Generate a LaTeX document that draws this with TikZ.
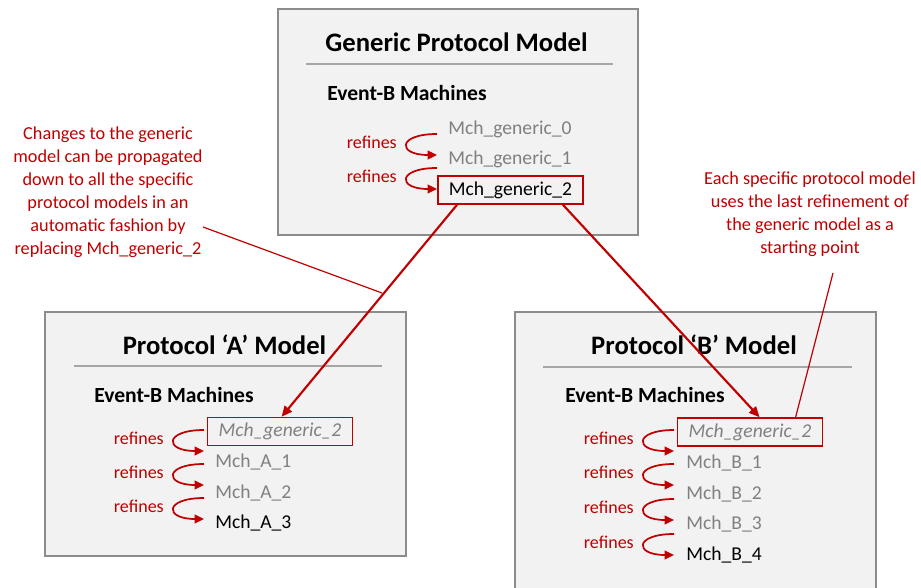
\documentclass[tikz,border=0pt]{standalone}
\usepackage{fontspec}
\setmainfont{Carlito}
\usetikzlibrary{arrows.meta,calc}
\definecolor{myred}{HTML}{C00000}
\definecolor{boxfill}{HTML}{F2F2F2}
\definecolor{boxline}{HTML}{8C8C8C}
\definecolor{sepline}{HTML}{A6A6A6}
\definecolor{dimtext}{HTML}{808080}
\tikzset{
  model/.style={draw=boxline, line width=1.3pt, fill=boxfill},
  sep/.style={draw=sepline, line width=0.9pt},
  title/.style={font=\fontsize{20}{24}\selectfont\bfseries, inner sep=0pt},
  sub/.style={font=\fontsize{16.2}{19}\selectfont\bfseries, inner sep=0pt, anchor=west},
  mch/.style={font=\fontsize{14.7}{17}\selectfont, inner sep=0pt, anchor=west},
  old/.style={mch, text=dimtext},
  cur/.style={mch, text=black},
  genbox/.style={draw=myred, line width=1.1pt, inner sep=0pt, minimum width=109pt, minimum height=21pt, font=\fontsize{14.7}{17}\selectfont},
  reflab/.style={font=\fontsize{13.5}{16}\selectfont, text=myred, inner sep=0pt, anchor=east},
  refarr/.style={draw=myred, line width=1.3pt, -{Triangle[length=7pt,width=6.5pt]}},
  mainarr/.style={draw=myred, line width=1.6pt, -{Triangle[length=8pt,width=7pt]}},
  note/.style={font=\fontsize{13.7}{17.25}\selectfont, text=myred, align=center, inner sep=0pt},
  noteline/.style={draw=myred, line width=0.9pt}
}
\newcommand\refcurve[1]{\draw[refarr] ($(#1.east)+(40,-8)$) .. controls +(-40,0) and +(-40,0) .. ($(#1.east)+(40,13)$);}
\begin{document}
\begin{tikzpicture}[x=0.75pt,y=-0.75pt]
\clip (0,0) rectangle (921,588);
\fill[white] (0,0) rectangle (921,588);

% ---- Generic box
\draw[model] (278,9) rectangle (638,235);
\node[title] (gt) at (456.5,42) {Generic Protocol Model};
\draw[sep] (306,64) -- (613,64);
\node[sub] (gs) at (327,93) {Event-B Machines};
\node[old] (g0) at (448,129) {Mch\_generic\_0};
\node[old] (g1) at (448,159) {Mch\_generic\_1};
\node[genbox] (g2) at (510.5,190) {Mch\_generic\_2};
\node[reflab] (gr1) at (397,142) {refines};
\node[reflab] (gr2) at (397,176) {refines};
\refcurve{gr1}
\refcurve{gr2}

% ---- Protocol A
\draw[model] (45,312) rectangle (406,556);
\node[title] (at) at (224.5,345) {Protocol ‘A’ Model};
\draw[sep] (74,366) -- (382,366);
\node[sub] (as) at (94,395) {Event-B Machines};
\node[genbox, text=dimtext] (a0) at (280,431.5) {\itshape Mch\_generic\_2};
\node[old] (a1) at (215,462) {Mch\_A\_1};
\node[old] (a2) at (215,493) {Mch\_A\_2};
\node[cur] (a3) at (215,523) {Mch\_A\_3};
\node[reflab] (ar1) at (164,438) {refines};
\node[reflab] (ar2) at (164,472) {refines};
\node[reflab] (ar3) at (164,506) {refines};
\refcurve{ar1}
\refcurve{ar2}
\refcurve{ar3}

% ---- Protocol B
\draw[model] (515,312) rectangle (876,600);
\node[title] (bt) at (694,345) {Protocol ‘B’ Model};
\draw[sep] (543,367) -- (852,367);
\node[sub] (bs) at (565,395) {Event-B Machines};
\node[genbox, text=dimtext] (b0) at (750,432) {\itshape Mch\_generic\_2};
\node[old] (b1) at (686,463) {Mch\_B\_1};
\node[old] (b2) at (686,494) {Mch\_B\_2};
\node[old] (b3) at (686,524) {Mch\_B\_3};
\node[cur] (b4) at (686,555) {Mch\_B\_4};
\node[reflab] (br1) at (634,438) {refines};
\node[reflab] (br2) at (634,472) {refines};
\node[reflab] (br3) at (634,507) {refines};
\node[reflab] (br4) at (634,542) {refines};
\refcurve{br1}
\refcurve{br2}
\refcurve{br3}
\refcurve{br4}

% ---- main arrows
\draw[mainarr] ($(g2.south west)+(20,0)$) -- ($(a0.north west)+(75,0)$);
\draw[mainarr] ($(g2.south east)+(-21,0)$) -- ($(b0.north west)+(83,0)$);

% ---- notes
\node[note] (n1) at (108,192) {Changes to the generic\\model can be propagated\\down to all the specific\\protocol models in an\\automatic fashion by\\replacing Mch\_generic\_2};
\coordinate (n1s) at (203,227);
\coordinate (n1e) at (382,293);
\draw[noteline] (n1s) -- (n1e);

\node[note] (n2) at (810,214) {Each specific protocol model\\uses the last refinement of\\the generic model as a\\starting point};
\coordinate (n2s) at (833,273);
\draw[noteline] (n2s) -- ($(b0.north west)+(119,0)$);
\end{tikzpicture}
\end{document}
